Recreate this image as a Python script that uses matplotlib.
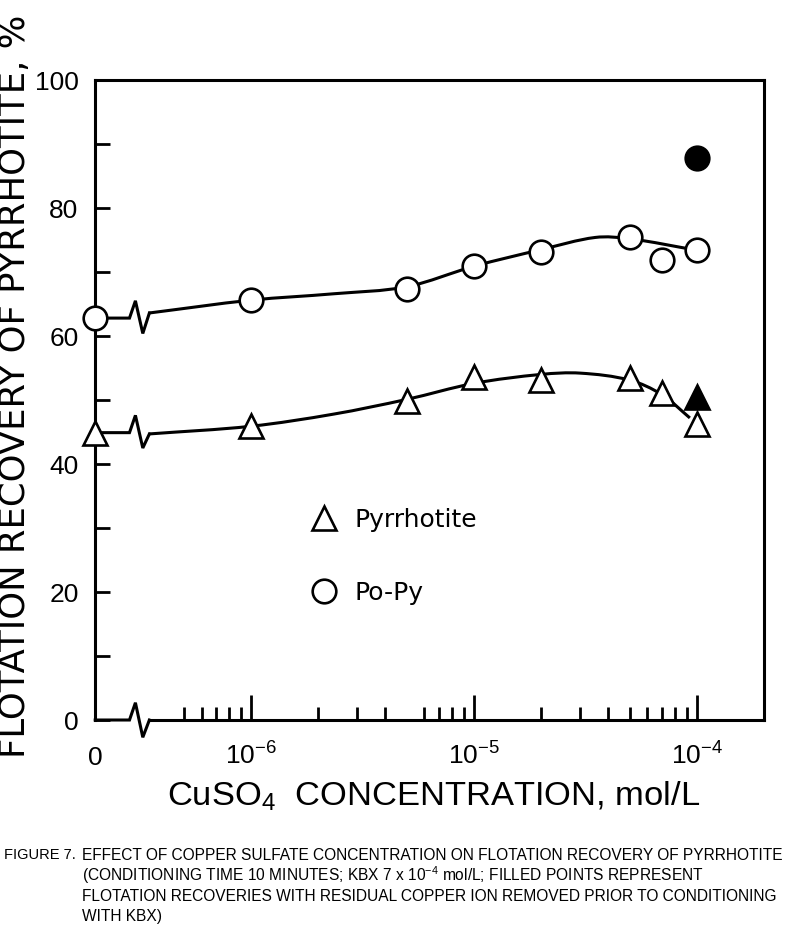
import numpy as np
import matplotlib
matplotlib.use('Agg')
import matplotlib.pyplot as plt
from matplotlib.path import Path
from matplotlib.patches import PathPatch
from matplotlib.ticker import NullFormatter

# измеренные точки (концентрация CuSO4, моль/л; 0 = без меди)
conc = [0, 1e-6, 5e-6, 1e-5, 2e-5, 5e-5, 7e-5, 1e-4]
po_py = [62.8, 65.6, 67.4, 70.9, 73.1, 75.4, 71.8, 73.4]
pyrrhotite = [44.9, 46.0, 49.9, 53.6, 53.1, 53.4, 51.1, 46.2]

# залитые точки: остаточная медь удалена
filled_conc = [1e-4]
filled_po_py = [87.8]
filled_pyrrhotite = [50.5]

# сглаженные кривые
po_py_curve_x = [3.5e-7, 1e-6, 2.35e-6, 5e-6, 1e-5, 2e-5, 3.5e-5, 5e-5, 1e-4]
po_py_curve_y = [63.6, 65.6, 66.6, 67.7, 70.9, 73.5, 75.4, 75.2, 73.4]
pyrr_curve_x = [3.5e-7, 1e-6, 2.35e-6, 5e-6, 1e-5, 2e-5, 3e-5, 5e-5, 7e-5, 9.3e-5]
pyrr_curve_y = [44.7, 45.9, 47.8, 50.1, 52.6, 54.0, 54.2, 53.1, 50.8, 47.2]

x_ticks = [1e-6, 1e-5, 1e-4]
x_tick_labels = [r'$\mathregular{10^{-6}}$', r'$\mathregular{10^{-5}}$', r'$\mathregular{10^{-4}}$']
x_minor = [k * 1e-7 for k in (5, 6, 7, 8, 9)] + \
          [k * 1e-6 for k in (2, 3, 4, 6, 7, 8, 9)] + \
          [k * 1e-5 for k in (2, 3, 4, 5, 6, 7, 8, 9)]

X_ZERO = 2e-7          # где на разорванной оси стоит "0"
BREAK = [2.85e-7, 3.03e-7, 3.27e-7, 3.5e-7]   # разрыв оси


def zero_pos(xs):
    return [X_ZERO if v == 0 else v for v in xs]


def smooth_curve(xs, ys):
    """кривая Безье через точки в лог. координатах"""
    lx = np.log10(xs)
    y = np.asarray(ys, float)
    n = len(lx)
    m = np.empty(n)
    m[0] = (y[1] - y[0]) / (lx[1] - lx[0])
    m[-1] = (y[-1] - y[-2]) / (lx[-1] - lx[-2])
    for i in range(1, n - 1):
        m[i] = (y[i + 1] - y[i - 1]) / (lx[i + 1] - lx[i - 1])
    verts = [(lx[0], y[0])]
    codes = [Path.MOVETO]
    for i in range(n - 1):
        h = lx[i + 1] - lx[i]
        verts += [(lx[i] + h / 3, y[i] + m[i] * h / 3),
                  (lx[i + 1] - h / 3, y[i + 1] - m[i + 1] * h / 3),
                  (lx[i + 1], y[i + 1])]
        codes += [Path.CURVE4] * 3
    verts = np.array(verts)
    verts[:, 0] = 10 ** verts[:, 0]
    return Path(verts, codes)


def break_line(ax, y0, y1, up=2.7, down=2.5, **kw):
    xs = [X_ZERO, BREAK[0], BREAK[1], BREAK[2], BREAK[3]]
    ys = [y0, y0, y0 + up, y0 - down, y1]
    ax.plot(xs, ys, color='black', solid_joinstyle='miter', **kw)


fig = plt.figure(figsize=(8, 9.38), dpi=100)
ax = fig.add_axes([0.119, 0.2324, 0.836, 0.6823])
ax.set_xscale('log')
ax.set_xlim(X_ZERO, 2e-4)
ax.set_ylim(0, 100)

lw = 2.2
for s in ('left', 'top', 'right'):
    ax.spines[s].set_linewidth(lw)
ax.spines['bottom'].set_visible(False)

# ось X с разрывом
break_line(ax, 0, 0, up=2.7, down=2.7, lw=lw, clip_on=False)
ax.plot([BREAK[3], 2e-4], [0, 0], color='black', lw=lw, clip_on=False)

# кривые
for cx, cy, d in ((po_py_curve_x, po_py_curve_y, po_py), (pyrr_curve_x, pyrr_curve_y, pyrrhotite)):
    break_line(ax, d[0], cy[0], up=2.7, down=2.4, lw=lw)
    ax.add_patch(PathPatch(smooth_curve(cx, cy), fill=False, lw=lw, edgecolor='black', zorder=2))

ms = 17
mew = 1.9
ax.plot(zero_pos(conc), pyrrhotite, linestyle='none', marker='^', ms=ms, mew=mew,
        mfc='white', mec='black', zorder=3, label='Pyrrhotite', clip_on=False)
ax.plot(zero_pos(conc), po_py, linestyle='none', marker='o', ms=ms, mew=mew,
        mfc='white', mec='black', zorder=3, label='Po-Py', clip_on=False)
ax.plot(filled_conc, filled_pyrrhotite, linestyle='none', marker='^', ms=ms, mew=mew,
        mfc='black', mec='black', zorder=3)
ax.plot(filled_conc, filled_po_py, linestyle='none', marker='o', ms=ms, mew=mew,
        mfc='black', mec='black', zorder=3)

# оси и деления
ax.set_yticks([0, 20, 40, 60, 80, 100])
ax.set_yticks([10, 30, 50, 70, 90], minor=True)
ax.tick_params(axis='y', which='both', direction='in', length=11, width=2,
               labelsize=19, pad=12, labelfontfamily='Liberation Sans')
ax.set_xticks(x_ticks, labels=[''] * len(x_ticks))
ax.set_xticks(x_minor, minor=True)
ax.xaxis.set_minor_formatter(NullFormatter())
ax.tick_params(axis='x', which='major', direction='in', length=18, width=2)
ax.tick_params(axis='x', which='minor', direction='in', length=9.5, width=2)

xt = ax.get_xaxis_transform()
ax.text(X_ZERO, -0.07, '0', transform=xt, ha='center', va='baseline',
        fontsize=19, family='Liberation Sans')
for x, lab in zip(x_ticks, x_tick_labels):
    ax.text(x, -0.07, lab, transform=xt, ha='center', va='baseline',
            fontsize=19, family='Liberation Sans')

ax.set_ylabel('FLOTATION RECOVERY OF PYRRHOTITE, %', fontsize=25.5,
              family='DejaVu Sans')
ax.yaxis.set_label_coords(-0.094, 0.522)

fig.text(0.5425, 1 - 796 / 938, r'$\mathregular{CuSO_4}$  CONCENTRATION, mol/L',
         ha='center', va='center', fontsize=24.8, family='Liberation Sans')

ax.legend(loc='upper left', bbox_to_anchor=(0.320, 0.331), frameon=False,
          handlelength=1.2, handletextpad=0.6, labelspacing=1.95,
          borderpad=0, borderaxespad=0, prop={'family': 'DejaVu Sans', 'size': 18})

# подпись к рисунку
cap_font = dict(fontsize=11.2, family='Liberation Sans', va='center', ha='left')
fig.text(4 / 800, 1 - 855 / 938, 'FIGURE 7.', **{**cap_font, 'fontsize': 10.5})
cap_lines = [
    'EFFECT OF COPPER SULFATE CONCENTRATION ON FLOTATION RECOVERY OF PYRRHOTITE',
    r'(CONDITIONING TIME 10 MINUTES; KBX 7 x $\mathregular{10^{-4}}$ mol/L; FILLED POINTS REPRESENT',
    'FLOTATION RECOVERIES WITH RESIDUAL COPPER ION REMOVED PRIOR TO CONDITIONING',
    'WITH KBX)',
]
for i, line in enumerate(cap_lines):
    fig.text(82 / 800, 1 - (855 + 20.5 * i) / 938, line, **cap_font)

fig.savefig('out.png', dpi=100, facecolor='white')
